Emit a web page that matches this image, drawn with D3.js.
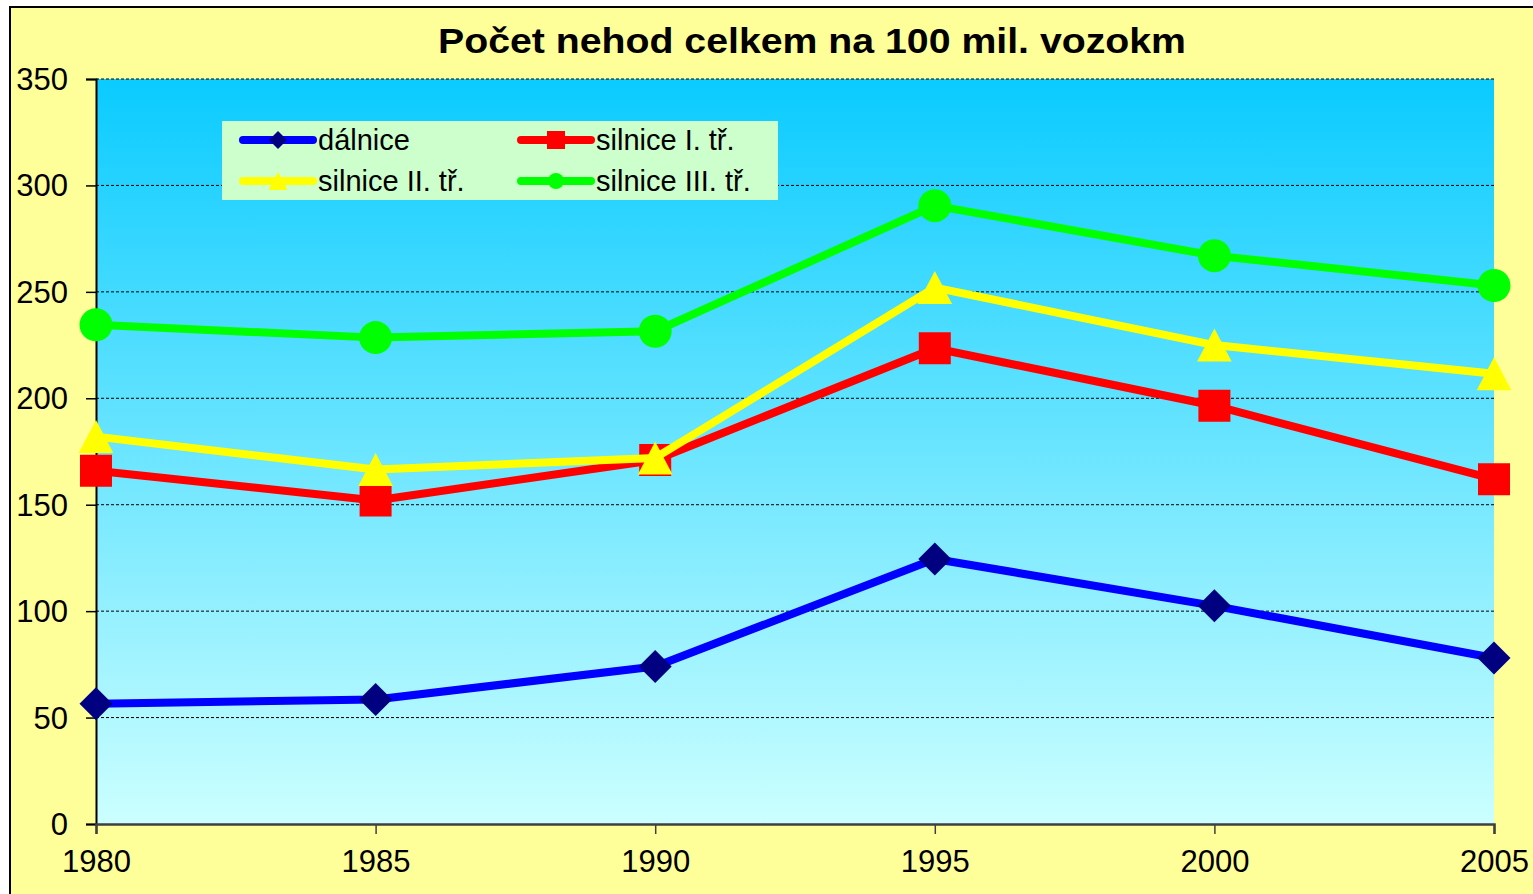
<!DOCTYPE html>
<html><head><meta charset="utf-8">
<script src="https://cdn.jsdelivr.net/npm/d3@7"></script>
<style>
body{margin:0;background:#fff;overflow:hidden}
text{font-family:"Liberation Sans",Arial,sans-serif;fill:#000}
</style></head>
<body>
<script>
const years = [1980, 1985, 1990, 1995, 2000, 2005];
const dalnice = [56.5, 58.5, 74, 124.5, 102.5, 78];
const silniceI = [166, 152, 171, 223.5, 196.5, 162];
const silniceII = [182, 166.5, 172, 252, 225, 211.5];
const silniceIII = [234.5, 228.5, 231.5, 290.5, 267, 253];
const seriesNames = ["dálnice", "silnice I. tř.", "silnice II. tř.", "silnice III. tř."];
const yTicks = [0, 50, 100, 150, 200, 250, 300, 350];
const title = "Počet nehod celkem na 100 mil. vozokm";

const W = 1533, H = 894;
const svg = d3.select("body").append("svg").attr("width", W).attr("height", H);
const defs = svg.append("defs");
const grad = defs.append("linearGradient").attr("id", "bg").attr("x1", 0).attr("y1", 0).attr("x2", 0).attr("y2", 1);
grad.append("stop").attr("offset", "0%").attr("stop-color", "#0ACBFF");
grad.append("stop").attr("offset", "100%").attr("stop-color", "#CCFFFF");

// outer chart area
svg.append("rect").attr("x", 10).attr("y", 7).attr("width", W).attr("height", H)
  .attr("fill", "#FFFF99").attr("stroke", "#000").attr("stroke-width", 2);

const x = d3.scaleLinear().domain([1980, 2005]).range([96, 1494]);
const y = d3.scaleLinear().domain([0, 350]).range([824, 79]);

// plot area
svg.append("rect").attr("x", x(1980)).attr("y", y(350)).attr("width", x(2005) - x(1980)).attr("height", y(0) - y(350))
  .attr("fill", "url(#bg)");

// grid
svg.append("g").selectAll("line").data(yTicks.filter(d => d > 0)).join("line")
  .attr("x1", x(1980)).attr("x2", x(2005)).attr("y1", d => y(d)).attr("y2", d => y(d))
  .attr("stroke", "#000").attr("stroke-width", 1).attr("stroke-dasharray", "3,2");

// y axis
const yAxis = svg.append("g").attr("transform", `translate(${x(1980)},0)`)
  .call(d3.axisLeft(y).tickValues(yTicks).tickSize(10).tickPadding(18).tickFormat(d3.format("d")));
yAxis.select(".domain").attr("stroke", "#000").attr("stroke-width", 2);
yAxis.selectAll(".tick line").attr("stroke", "#000").attr("stroke-width", 1.5);
yAxis.selectAll(".tick text").attr("font-size", 31).attr("dy", "0.34em").style("font-family", '"Liberation Sans",Arial,sans-serif').attr("fill", "#000");

// x axis
const xAxis = svg.append("g").attr("transform", `translate(0,${y(0)})`)
  .call(d3.axisBottom(x).tickValues(years).tickSize(10).tickFormat(d3.format("d")));
xAxis.select(".domain").attr("stroke", "#404040").attr("stroke-width", 2.5);
xAxis.selectAll(".tick line").attr("stroke", "#404040").attr("stroke-width", 1.5);
xAxis.selectAll(".tick text").attr("font-size", 31).attr("y", 48).attr("dy", 0).style("font-family", '"Liberation Sans",Arial,sans-serif').attr("fill", "#000");

// series
const series = [
  {name: seriesNames[0], values: dalnice, color: "#0000FF", mfill: "#000080", shape: "diamond"},
  {name: seriesNames[1], values: silniceI, color: "#FF0000", mfill: "#FF0000", shape: "square"},
  {name: seriesNames[2], values: silniceII, color: "#FFFF00", mfill: "#FFFF00", shape: "triangle"},
  {name: seriesNames[3], values: silniceIII, color: "#00FF00", mfill: "#00FF00", shape: "circle"}
];

function markerPath(shape, s) {
  if (shape === "diamond") return `M0,${-s}L${s},0L0,${s}L${-s},0Z`;
  if (shape === "square") return `M${-s},${-s}H${s}V${s}H${-s}Z`;
  if (shape === "triangle") return `M0,${-s}L${s * 1.05},${s}H${-s * 1.05}Z`;
  return `M${-s},0A${s},${s} 0 1,0 ${s},0A${s},${s} 0 1,0 ${-s},0Z`;
}
const msize = {diamond: 16.5, square: 16, triangle: 16.5, circle: 16.5};

const line = d3.line().x((d, i) => x(years[i])).y(d => y(d));
series.forEach(s => {
  const g = svg.append("g");
  g.append("path").attr("d", line(s.values)).attr("fill", "none")
    .attr("stroke", s.color).attr("stroke-width", 8).attr("stroke-linejoin", "round");
  g.selectAll("path.m").data(s.values).join("path").attr("class", "m")
    .attr("transform", (d, i) => `translate(${x(years[i])},${y(d)})`)
    .attr("d", markerPath(s.shape, msize[s.shape])).attr("fill", s.mfill);
});

// legend
const lg = svg.append("g");
lg.append("rect").attr("x", 222).attr("y", 121).attr("width", 556).attr("height", 79).attr("fill", "#CCFFCC");
const legPos = [[243, 140], [521, 140], [243, 181], [521, 181]];
series.forEach((s, i) => {
  const [lx, ly] = legPos[i];
  lg.append("line").attr("x1", lx).attr("x2", lx + 70).attr("y1", ly).attr("y2", ly)
    .attr("stroke", s.color).attr("stroke-width", 8).attr("stroke-linecap", "round");
  lg.append("path").attr("transform", `translate(${lx + 35},${ly})`)
    .attr("d", markerPath(s.shape, s.shape === "circle" ? 8 : 9)).attr("fill", s.mfill);
  lg.append("text").attr("x", lx + 75).attr("y", ly + 10).attr("font-size", 29).text(s.name);
});

// title
svg.append("text").attr("x", 438).attr("y", 53).attr("font-size", 35).attr("font-weight", "bold")
  .attr("textLength", 748).attr("lengthAdjust", "spacingAndGlyphs").text(title);
</script>
</body></html>
